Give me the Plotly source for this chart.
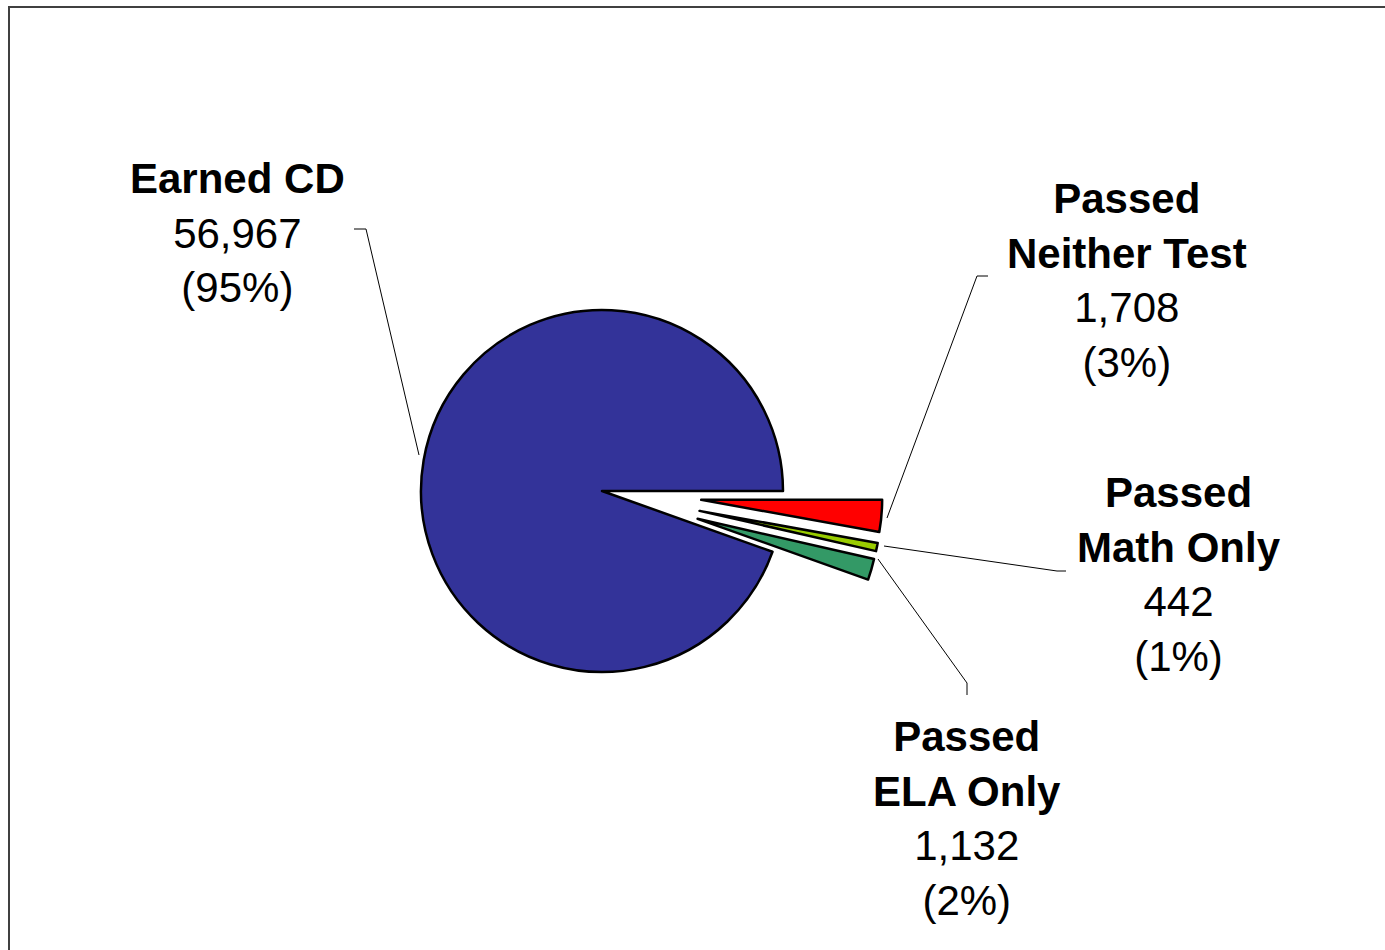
import plotly.graph_objects as go

# ---- data ----
categories = ["Earned CD", "Passed Neither Test", "Passed Math Only", "Passed ELA Only"]
counts = [56967, 1708, 442, 1132]

# ---- style ----
slice_colors = ["#333399", "#FF0000", "#99CC00", "#339966"]
W, H = 1385, 950
FONT = "Liberation Sans, Arial, sans-serif"
FS = 42

total = sum(counts)
pcts = [round(100 * v / total) for v in counts]

# pie geometry (pixels)
cx, cy, r, pull = 602, 491, 181, 0.55
half = r * (1 + pull)

fig = go.Figure()
fig.add_trace(go.Pie(
    labels=categories, values=counts, sort=False, direction="clockwise",
    rotation=90 + 360 * (total - counts[0]) / total,
    pull=[0, pull, pull, pull],
    marker=dict(colors=slice_colors, line=dict(color="black", width=2.5)),
    textinfo="none", hoverinfo="label+value+percent", showlegend=False,
    domain=dict(x=[(cx - half) / W, (cx + half) / W],
                y=[1 - (cy + half) / H, 1 - (cy - half) / H]),
))

# label block centers (pixels) and leader line paths
label_pos = [(237, 233), (1127, 280), (1179, 574), (967, 818)]
leaders = [
    [(354, 229), (366, 229), (419, 455)],
    [(988, 276), (977, 276), (887, 518)],
    [(1066, 571), (1057, 571), (884, 546)],
    [(967, 695), (967, 683), (878, 559)],
]

for name, v, p, (lx, ly) in zip(categories, counts, pcts, label_pos):
    title = name.replace("Passed ", "Passed<br>")
    fig.add_annotation(
        x=lx, y=ly, xref="x", yref="y", showarrow=False,
        xanchor="center", yanchor="middle", align="center",
        text=f"<b>{title}</b><br>{v:,}<br>({p}%)",
        font=dict(family=FONT, size=FS, color="black"),
    )

for pts in leaders:
    path = "M " + " L ".join(f"{x},{y}" for x, y in pts)
    fig.add_shape(type="path", path=path, xref="x", yref="y",
                  line=dict(color="black", width=1), layer="above")

# chart frame (top-left edges visible)
fig.add_shape(type="rect", x0=9, y0=7, x1=W + 20, y1=H + 20, xref="x", yref="y",
              line=dict(color="#404040", width=2), layer="below")

fig.update_layout(
    width=W, height=H, margin=dict(l=0, r=0, t=0, b=0),
    paper_bgcolor="white", plot_bgcolor="white",
    xaxis=dict(range=[0, W], visible=False, fixedrange=True),
    yaxis=dict(range=[H, 0], visible=False, fixedrange=True),
)

fig.write_html(
    "out.html",
    config={"displayModeBar": False},
    post_script="document.body.style.margin='0px';document.body.style.overflow='hidden';",
)
